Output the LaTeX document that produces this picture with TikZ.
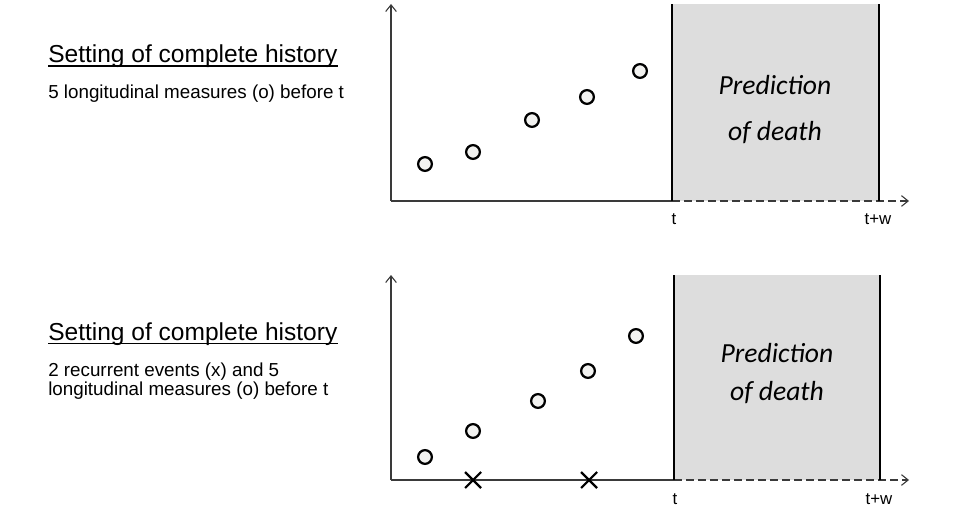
\documentclass[tikz,border=0pt]{standalone}
\usepackage{fontspec}
\setmainfont{Liberation Sans}
\newfontfamily\calib{Carlito}
\usetikzlibrary{arrows.meta}
\definecolor{boxgray}{HTML}{DDDDDD}
\definecolor{axisgray}{HTML}{3A3A3A}
\definecolor{dotfill}{HTML}{F2F2F0}
\begin{document}
\begin{tikzpicture}[x=0.75pt,y=-0.75pt,
  axis/.style={draw=axisgray,line width=1.1pt},
  tipped/.style={-{Straight Barb[length=5pt,width=8pt,line width=0.8pt]}},
  meas/.style={circle,draw=black,fill=dotfill,line width=1.7pt,minimum size=10.3pt,inner sep=0pt},
  evt/.style={line width=1.6pt,draw=black},
  predbox/.style={fill=boxgray,draw=none},
  edge/.style={draw=black,line width=1.1pt},
  predtxt/.style={font=\calib\itshape\fontsize{20.7}{24}\selectfont},
  ticklbl/.style={font=\fontsize{12.6}{14}\selectfont,anchor=base,inner sep=0pt},
  title/.style={font=\fontsize{18.4}{22}\selectfont,anchor=base west,inner sep=0pt},
  sub/.style={font=\fontsize{14.1}{17}\selectfont,anchor=base west,inner sep=0pt},
  uline/.style={draw=black,line width=1.1pt}
]
\useasboundingbox (0,0) rectangle (977,527);
\fill[white] (0,0) rectangle (977,527);

% ---------- top panel ----------
\fill[predbox] (672,4) rectangle (879,201);
\coordinate (o1) at (391,201);
\coordinate (ytop1) at (391,4);
\coordinate (t1) at (672,201);
\coordinate (tw1) at (879,201);
\coordinate (xend1) at (909,201);
\coordinate (bt1) at (672,4);
\coordinate (bw1) at (879,4);
\draw[axis,tipped] (o1) -- (ytop1);
\draw[axis] (o1) -- (t1);
\draw[axis,tipped,dash pattern=on 6pt off 3pt] (t1) -- (xend1);
\draw[edge] (t1) -- (bt1);
\draw[edge] (tw1) -- (bw1);
\node[predtxt] (p1) at (775,85) {Prediction};
\node[predtxt] (d1) at (775,133) {of death};
\node[ticklbl] (lt1) at (674,224) {t};
\node[ticklbl] (ltw1) at (878,224) {t+w};
\node[meas] (m11) at (425,164) {};
\node[meas] (m12) at (473,152) {};
\node[meas] (m13) at (532,120) {};
\node[meas] (m14) at (587,97) {};
\node[meas] (m15) at (640,71) {};
\node[title] (h1) at (48,62.5) {Setting of complete history};
\draw[uline] ([yshift=-2.6pt]h1.base west) -- ([yshift=-2.6pt]h1.base east);
\node[sub] (s1) at (48,99) {5 longitudinal measures (o) before t};

% ---------- bottom panel ----------
\fill[predbox] (674,275) rectangle (880,480);
\coordinate (o2) at (391,480);
\coordinate (ytop2) at (391,275);
\coordinate (t2) at (674,480);
\coordinate (tw2) at (880,480);
\coordinate (xend2) at (909,480);
\coordinate (bt2) at (674,275);
\coordinate (bw2) at (880,275);
\draw[axis,tipped] (o2) -- (ytop2);
\draw[axis] (o2) -- (t2);
\draw[axis,tipped,dash pattern=on 6pt off 3pt] (t2) -- (xend2);
\draw[edge] (t2) -- (bt2);
\draw[edge] (tw2) -- (bw2);
\node[predtxt] (p2) at (777,353) {Prediction};
\node[predtxt] (d2) at (777,393) {of death};
\node[ticklbl] (lt2) at (675,504) {t};
\node[ticklbl] (ltw2) at (879,504) {t+w};
\node[meas] (m21) at (425,457) {};
\node[meas] (m22) at (473,431) {};
\node[meas] (m23) at (538,401) {};
\node[meas] (m24) at (588,371) {};
\node[meas] (m25) at (636,336) {};
\coordinate (x1) at (473,480);
\coordinate (x2) at (589,480);
\draw[evt] ([shift={(-8,-8)}]x1) -- ([shift={(8,8)}]x1) ([shift={(-8,8)}]x1) -- ([shift={(8,-8)}]x1);
\draw[evt] ([shift={(-8,-8)}]x2) -- ([shift={(8,8)}]x2) ([shift={(-8,8)}]x2) -- ([shift={(8,-8)}]x2);
\node[title] (h2) at (48,340) {Setting of complete history};
\draw[uline] ([yshift=-2.6pt]h2.base west) -- ([yshift=-2.6pt]h2.base east);
\node[sub] (s2) at (48,376.5) {2 recurrent events (x) and 5};
\node[sub] (s3) at (48,395) {longitudinal measures (o) before t};
\end{tikzpicture}
\end{document}
